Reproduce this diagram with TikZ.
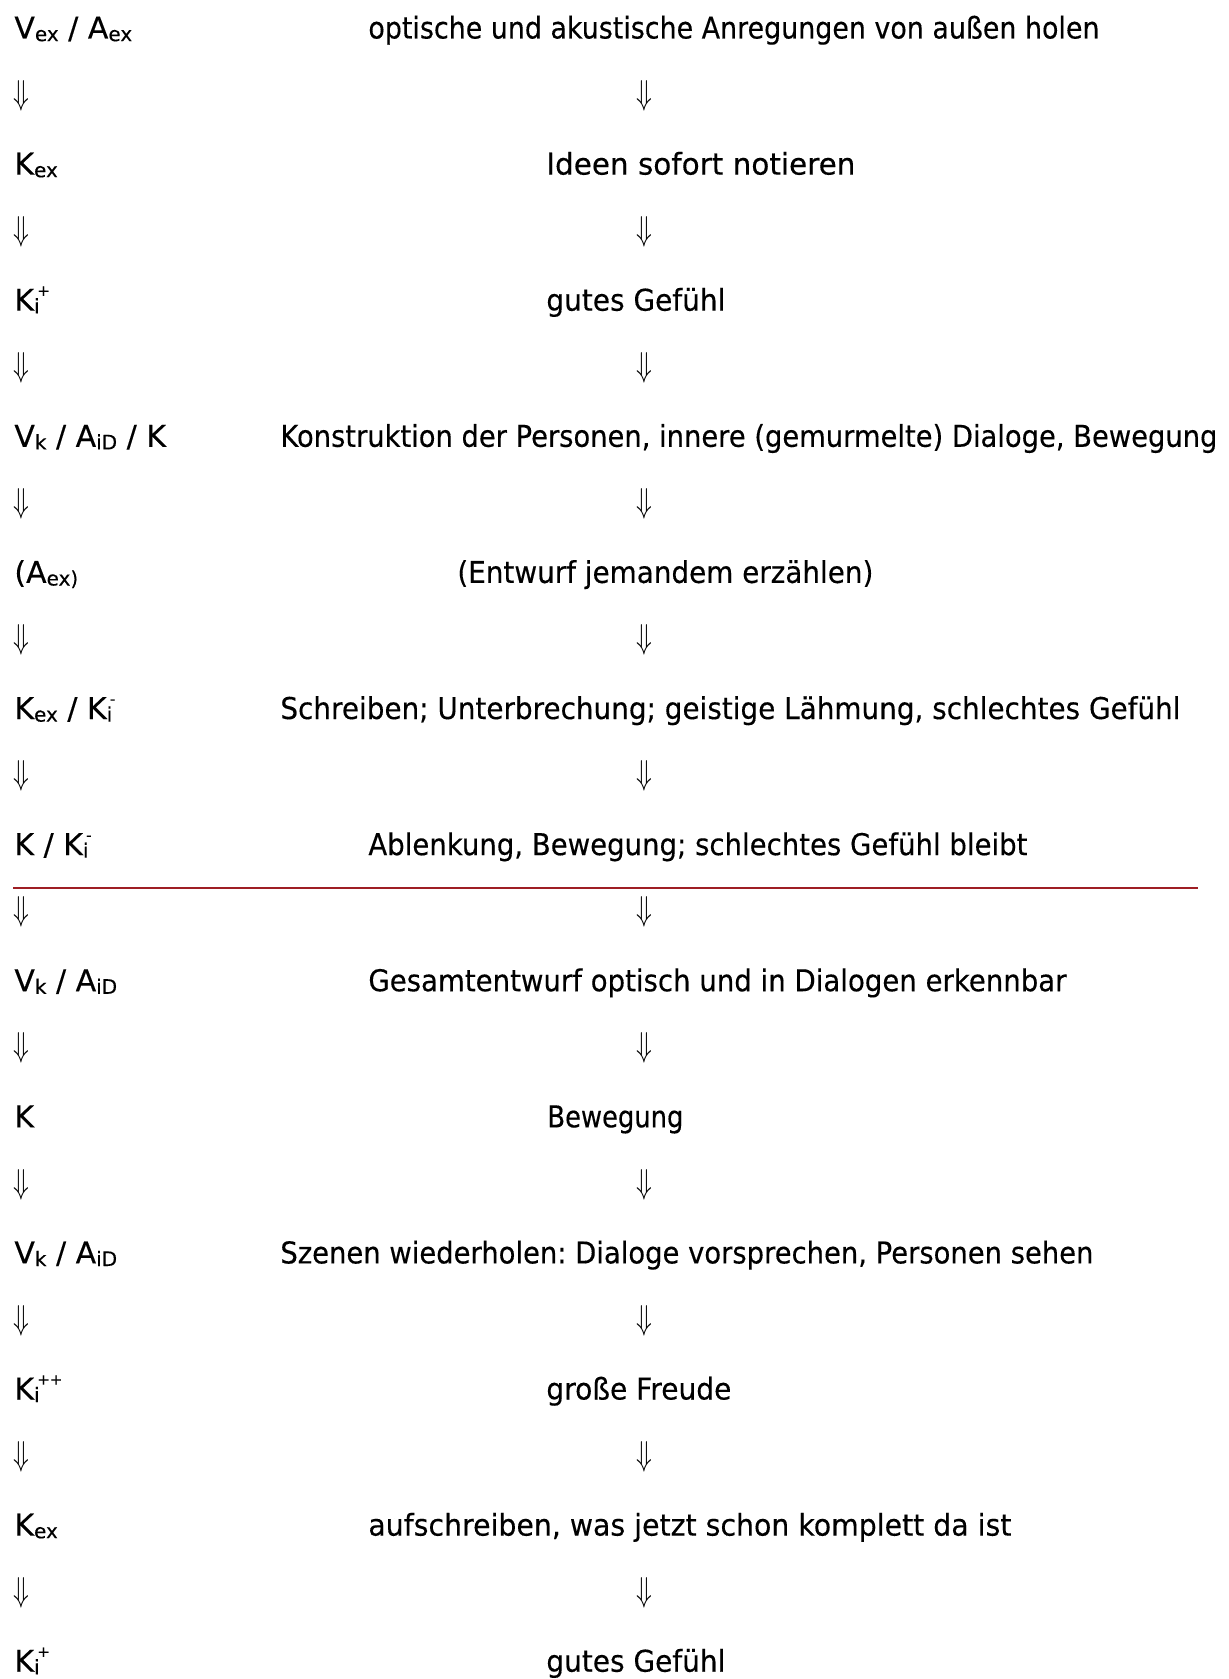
\documentclass[tikz,border=0pt]{standalone}
\usepackage{fontspec}
\usepackage{graphicx}
\setmainfont[FakeBold=0.3]{DejaVu Sans}
\frenchspacing
\definecolor{linered}{RGB}{158,30,36}
\newlength\px \setlength\px{0.5pt}
\newcommand\lo[1]{\raisebox{-1.3pt}{\fontsize{10pt}{11pt}\selectfont #1}}
\newcommand\Kup[1]{K\rlap{\raisebox{-1.3pt}{\fontsize{10pt}{11pt}\selectfont i}}\hspace{1.6pt}\raisebox{7.4pt}{\fontsize{7.5pt}{8pt}\selectfont #1}}
\newcommand\fitw[2]{\resizebox{#1\px}{\height}{#2}}
\newcommand\dar{\scalebox{0.75}[1]{$\Downarrow$}}
\begin{document}
\begin{tikzpicture}[x=0.5pt,y=-0.5pt,
  lbl/.style={anchor=base west,inner sep=0pt,font=\fontsize{15pt}{17pt}\selectfont},
  txt/.style={anchor=base west,inner sep=0pt,font=\fontsize{15pt}{17pt}\selectfont},
  arr/.style={inner sep=0pt,font=\fontsize{16.5pt}{18pt}\selectfont}]
\useasboundingbox (0,0) rectangle (1229,1679);
\fill[white] (0,0) rectangle (1229,1679);
% left labels
\node[lbl] (l0)  at (14,38.5)   {V\lo{ex} / A\lo{ex}};
\node[lbl] (l2)  at (14,174.6)  {K\lo{ex}};
\node[lbl] (l4)  at (14,310.7)  {\Kup{+}};
\node[lbl] (l6)  at (14,446.8)  {V\lo{k} / A\lo{iD} / K};
\node[lbl] (l8)  at (14,582.9)  {(A\lo{ex)}};
\node[lbl] (l10) at (14,719.0)  {K\lo{ex} / \Kup{-}};
\node[lbl] (l12) at (14,855.1)  {K / \Kup{-}};
\node[lbl] (l14) at (14,991.2)  {V\lo{k} / A\lo{iD}};
\node[lbl] (l16) at (14,1127.3) {K};
\node[lbl] (l18) at (14,1263.4) {V\lo{k} / A\lo{iD}};
\node[lbl] (l20) at (14,1399.5) {\Kup{++}};
\node[lbl] (l22) at (14,1535.6) {K\lo{ex}};
\node[lbl] (l24) at (14,1671.7) {\Kup{+}};
% right texts
\node[txt] (r0)  at (368,38.5)   {\fitw{731}{optische und akustische Anregungen von außen holen}};
\node[txt] (r2)  at (546,174.6)  {\fitw{309}{Ideen sofort notieren}};
\node[txt] (r4)  at (546,310.7)  {\fitw{179}{gutes Gefühl}};
\node[txt] (r6)  at (280,446.8)  {\fitw{937}{Konstruktion der Personen, innere (gemurmelte) Dialoge, Bewegung}};
\node[txt] (r8)  at (457,582.9)  {\fitw{416}{(Entwurf jemandem erzählen)}};
\node[txt] (r10) at (280,719.0)  {\fitw{900}{Schreiben; Unterbrechung; geistige Lähmung, schlechtes Gefühl}};
\node[txt] (r12) at (368,855.1)  {\fitw{659}{Ablenkung, Bewegung; schlechtes Gefühl bleibt}};
\node[txt] (r14) at (368,991.2)  {\fitw{698}{Gesamtentwurf optisch und in Dialogen erkennbar}};
\node[txt] (r16) at (547,1127.3) {\fitw{136}{Bewegung}};
\node[txt] (r18) at (280,1263.4) {\fitw{813}{Szenen wiederholen: Dialoge vorsprechen, Personen sehen}};
\node[txt] (r20) at (546,1399.5) {\fitw{185}{große Freude}};
\node[txt] (r22) at (368,1535.6) {\fitw{643}{aufschreiben, was jetzt schon komplett da ist}};
\node[txt] (r24) at (546,1671.7) {\fitw{179}{gutes Gefühl}};
% arrows
\foreach \i in {1,3,...,23}{
  \node[arr] (al\i) at (21,{27.5+68.05*\i}) {\dar};
  \node[arr] (ar\i) at (644,{27.5+68.05*\i}) {\dar};
}
% red separator
\coordinate (rs) at (13,888);
\coordinate (re) at (1198,888);
\draw[linered,line width=1pt] (rs) -- (re);
\end{tikzpicture}
\end{document}
